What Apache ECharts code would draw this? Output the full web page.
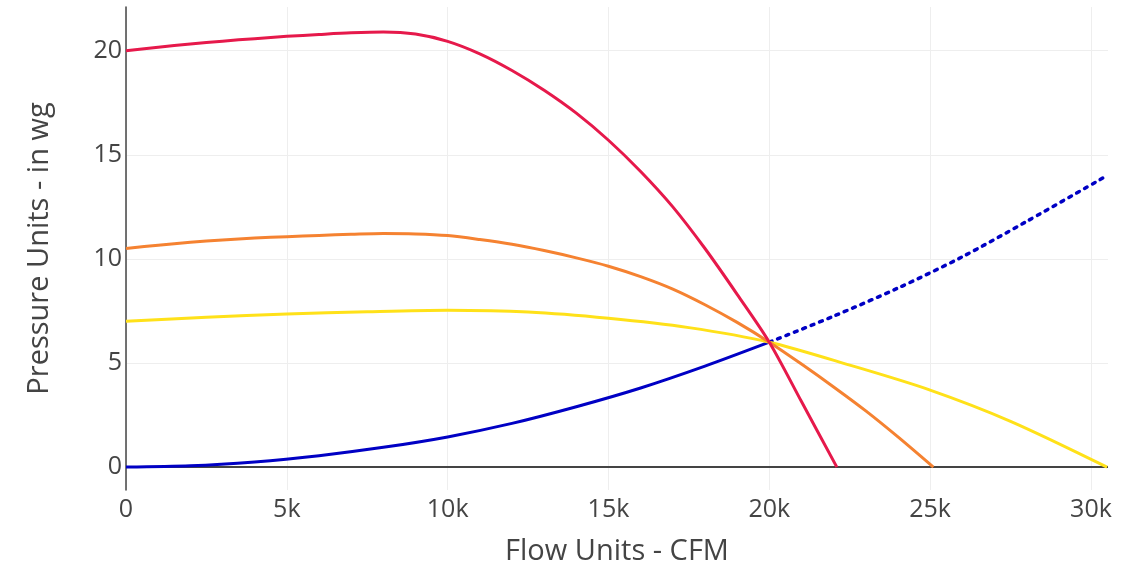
<!DOCTYPE html>
<html>
<head>
<meta charset="utf-8">
<script src="https://cdn.jsdelivr.net/npm/echarts@6/dist/echarts.min.js"></script>
<style>html,body{margin:0;padding:0;background:#fff}#c{width:1147px;height:575px}</style>
</head>
<body>
<div id="c"></div>
<script>
const xTicks = [0, 5000, 10000, 15000, 20000, 25000, 30000];
const yTicks = [0, 5, 10, 15, 20];

const redFlow = [0,1000,2000,3000,4000,5000,6000,7000,8000,9000,10000,11000,12000,13000,14000,15000,16000,17000,18000,19000,20000,21000,22100];
const redPressure = [20,20.17,20.32,20.46,20.58,20.69,20.78,20.86,20.9,20.8,20.45,19.85,19.05,18.1,17.0,15.7,14.2,12.5,10.5,8.3,6.0,3.15,0];

const orangeFlow = [0,1000,2000,3000,4000,5000,6000,7000,8000,9000,10000,11000,12000,13000,14000,15000,16000,17000,18000,19000,20000,21000,22000,23000,24000,25100];
const orangePressure = [10.5,10.66,10.8,10.91,11.0,11.07,11.13,11.18,11.22,11.2,11.12,10.93,10.7,10.4,10.05,9.65,9.15,8.55,7.8,6.95,6.0,4.95,3.85,2.7,1.45,0];

const yellowFlow = [0,2500,5000,7500,10000,12500,15000,17500,20000,22500,25000,27500,30500];
const yellowPressure = [7.0,7.2,7.35,7.46,7.53,7.45,7.15,6.7,6.0,4.9,3.7,2.2,0];

const systemFlow = [0,2000,4000,6000,8000,10000,12000,14000,16000,18000,20000];
const systemPressure = [0,0.06,0.25,0.55,0.95,1.45,2.1,2.9,3.8,4.85,6.0];

const systemExtFlow = [20000,22000,24000,26000,28000,30500];
const systemExtPressure = [6.0,7.25,8.6,10.1,11.8,14.0];

const zip = (xs, ys) => xs.map((x, i) => [x, ys[i]]);
const FONT = '"Open Sans", "Noto Sans", sans-serif';

const chart = echarts.init(document.getElementById('c'), null, {renderer: 'canvas'});
const lineSeries = (data, color, extra) => Object.assign({
  type: 'line', data: data, smooth: 0.3, showSymbol: false, symbol: 'none',
  lineStyle: {color: color, width: 3}, z: 3, animation: false
}, extra || {});

chart.setOption({
  animation: false,
  backgroundColor: '#fff',
  grid: {left: 126, right: 39, top: 7, bottom: 85, containLabel: false},
  xAxis: {
    type: 'value', min: 0, max: 30530,
    name: 'Flow Units - CFM', nameLocation: 'middle', nameGap: 47,
    nameTextStyle: {color: '#444', fontSize: 29, fontFamily: FONT},
    axisLine: {show: false, onZero: false},
    axisTick: {show: false, customValues: xTicks},
    axisLabel: {
      customValues: xTicks, color: '#444', fontSize: 25, fontFamily: FONT, margin: 7,
      formatter: v => v === 0 ? '0' : (v / 1000) + 'k'
    },
    splitLine: {show: true, lineStyle: {color: '#eeeeee', width: 1}}
  },
  yAxis: {
    type: 'value', min: -1.1, max: 22.1,
    name: 'Pressure Units - in wg', nameLocation: 'middle', nameGap: 72,
    nameTextStyle: {color: '#444', fontSize: 29, fontFamily: FONT},
    axisLine: {show: true, lineStyle: {color: '#444', width: 1.5}},
    axisTick: {show: false, customValues: yTicks},
    axisLabel: {customValues: yTicks, color: '#444', fontSize: 25, fontFamily: FONT, margin: 4},
    splitLine: {show: true, lineStyle: {color: '#eeeeee', width: 1}}
  },
  series: [
    lineSeries(zip(systemFlow, systemPressure), '#0000c4', {
      markLine: {
        silent: true, symbol: 'none', label: {show: false}, animation: false,
        lineStyle: {color: '#444', width: 2, type: 'solid'},
        data: [{yAxis: 0}], z: 1
      }
    }),
    lineSeries(zip(systemExtFlow, systemExtPressure), '#0000c4', {
      lineStyle: {color: '#0000c4', width: 3.5, type: [3, 6], cap: 'round'}
    }),
    lineSeries(zip(yellowFlow, yellowPressure), '#ffe119'),
    lineSeries(zip(orangeFlow, orangePressure), '#f58231'),
    lineSeries(zip(redFlow, redPressure), '#e6194b')
  ]
});
</script>
</body>
</html>
